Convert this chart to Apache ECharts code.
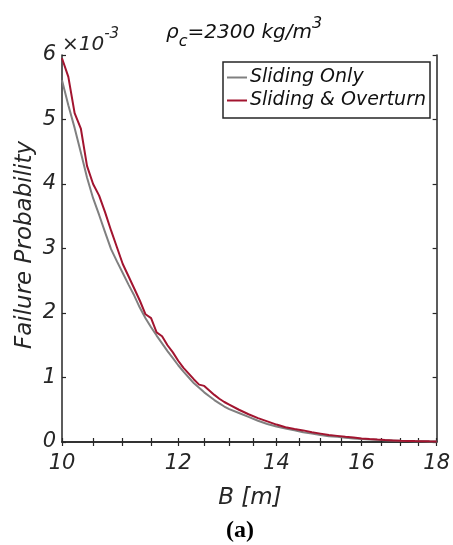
<!DOCTYPE html>
<html>
<head>
<meta charset="utf-8">
<script src="https://cdn.jsdelivr.net/npm/echarts@6/dist/echarts.min.js"></script>
<style>
  html, body { margin: 0; padding: 0; background: #fff; }
  #chart { width: 453px; height: 545px; }
</style>
</head>
<body>
<div id="chart"></div>
<script>
// Footing width B [m]
var widths = [
  10.0, 10.1, 10.2, 10.3, 10.4, 10.5, 10.6, 10.7, 10.8, 10.9,
  11.0, 11.1, 11.2, 11.3, 11.4, 11.5, 11.6, 11.7, 11.8, 11.9,
  12.0, 12.1, 12.2, 12.3, 12.4, 12.5, 12.6, 12.7, 12.8, 12.9,
  13.0, 13.2, 13.4, 13.6, 13.8, 14.0, 14.2, 14.4, 14.6, 14.8,
  15.0, 15.2, 15.4, 15.6, 15.8, 16.0, 16.2, 16.4, 16.6, 16.8,
  17.0, 17.2, 17.4, 17.6, 17.8, 18.0
];

// Failure probability (x 10^-3), sliding mode only
var slidingOnly = [
  5.61, 5.22, 4.87, 4.49, 4.10, 3.78, 3.52, 3.25, 2.99, 2.80,
  2.62, 2.44, 2.27, 2.08, 1.92, 1.78, 1.65, 1.53, 1.41, 1.30,
  1.19, 1.09, 1.00, 0.91, 0.84, 0.77, 0.71, 0.65, 0.60, 0.55,
  0.51, 0.45, 0.39, 0.33, 0.28, 0.24, 0.21, 0.18, 0.15, 0.13,
  0.11, 0.09, 0.08, 0.065, 0.055, 0.046, 0.039, 0.033, 0.028, 0.023,
  0.019, 0.016, 0.013, 0.011, 0.009, 0.008
];

// Failure probability (x 10^-3), sliding and overturning
var slidingOverturn = [
  5.95, 5.66, 5.10, 4.86, 4.28, 4.00, 3.82, 3.56, 3.28, 3.02,
  2.76, 2.57, 2.38, 2.19, 1.98, 1.92, 1.70, 1.64, 1.50, 1.39,
  1.26, 1.15, 1.06, 0.97, 0.89, 0.87, 0.80, 0.73, 0.67, 0.62,
  0.58, 0.50, 0.43, 0.37, 0.32, 0.27, 0.23, 0.20, 0.18, 0.15,
  0.13, 0.11, 0.095, 0.08, 0.068, 0.056, 0.045, 0.037, 0.030, 0.025,
  0.020, 0.017, 0.014, 0.012, 0.010, 0.009
];

var xLabelValues = [10, 12, 14, 16, 18];
var xTickValues = [10, 10.5, 11, 11.5, 12, 12.5, 13, 13.5, 14, 14.5, 15, 15.5, 16, 16.5, 17, 17.5, 18];
var seriesNames = ['Sliding Only', 'Sliding & Overturn'];

function pairs(xs, ys) {
  return xs.map(function (x, i) { return [x, ys[i]]; });
}

var FONT = '"DejaVu Sans", "Liberation Sans", Arial, sans-serif';
var AXIS_COLOR = '#262626';

var chart = echarts.init(document.getElementById('chart'), null, { renderer: 'canvas' });

var xAxisBase = {
  type: 'log',
  logBase: 10,
  min: 10,
  max: 18,
  axisLine: { show: true, lineStyle: { color: AXIS_COLOR, width: 1.5 } },
  axisTick: { show: true, inside: true, length: 4, customValues: xTickValues,
              lineStyle: { color: AXIS_COLOR, width: 1.2 } },
  splitLine: { show: false },
  minorTick: { show: false }
};

var yAxisBase = {
  type: 'value',
  min: 0,
  max: 6,
  interval: 1,
  axisLine: { show: true, lineStyle: { color: AXIS_COLOR, width: 1.5 } },
  axisTick: { show: true, inside: true, length: 4, lineStyle: { color: AXIS_COLOR, width: 1.2 } },
  splitLine: { show: false }
};

chart.setOption({
  backgroundColor: '#ffffff',
  animation: false,
  grid: { left: 62, right: 16, top: 55, bottom: 103, containLabel: false },
  legend: {
    data: seriesNames,
    orient: 'vertical',
    left: 223,
    top: 62,
    icon: 'rect',
    itemWidth: 20,
    itemHeight: 2,
    itemGap: 4,
    padding: [6, 4, 8, 4],
    borderColor: AXIS_COLOR,
    borderWidth: 1.5,
    backgroundColor: '#ffffff',
    textStyle: { fontFamily: FONT, fontStyle: 'italic', fontSize: 19, color: '#111', padding: [0, 0, 0, -2] }
  },
  xAxis: [
    Object.assign({}, xAxisBase, {
      position: 'bottom',
      axisLabel: {
        show: true, customValues: xLabelValues, margin: 11,
        fontFamily: FONT, fontStyle: 'italic', fontSize: 21, color: AXIS_COLOR,
        formatter: function (v) { return String(Math.round(v)); }
      }
    }),
    Object.assign({}, xAxisBase, { position: 'top', axisLabel: { show: false } })
  ],
  yAxis: [
    Object.assign({}, yAxisBase, {
      position: 'left',
      axisLabel: { show: true, margin: 6, fontFamily: FONT, fontStyle: 'italic', fontSize: 21, color: AXIS_COLOR }
    }),
    Object.assign({}, yAxisBase, { position: 'right', axisLabel: { show: false } })
  ],
  series: [
    {
      name: seriesNames[0],
      type: 'line',
      xAxisIndex: 0,
      yAxisIndex: 0,
      data: pairs(widths, slidingOnly),
      showSymbol: false,
      symbol: 'none',
      lineStyle: { color: '#808080', width: 2 },
      itemStyle: { color: '#808080' },
      z: 2
    },
    {
      name: seriesNames[1],
      type: 'line',
      xAxisIndex: 0,
      yAxisIndex: 0,
      data: pairs(widths, slidingOverturn),
      showSymbol: false,
      symbol: 'none',
      lineStyle: { color: '#A2142F', width: 2 },
      itemStyle: { color: '#A2142F' },
      z: 3
    }
  ],
  graphic: [
    {
      // title: rho_c = 2300 kg/m^3
      type: 'text',
      left: 166,
      top: 16,
      style: {
        text: '{b|ρ}{sub|c}{b|=2300 kg/m}{sup|3}',
        rich: {
          b: { fontFamily: FONT, fontStyle: 'italic', fontSize: 20, lineHeight: 34, verticalAlign: 'middle', fill: '#111' },
          sub: { fontFamily: FONT, fontStyle: 'italic', fontSize: 16, lineHeight: 16, verticalAlign: 'bottom', fill: '#111' },
          sup: { fontFamily: FONT, fontStyle: 'italic', fontSize: 16, lineHeight: 16, verticalAlign: 'top', fill: '#111' }
        }
      }
    },
    {
      // axis exponent
      type: 'text',
      left: 62,
      top: 27,
      style: {
        text: '{b|×10}{sup|-3}',
        rich: {
          b: { fontFamily: FONT, fontStyle: 'italic', fontSize: 20, lineHeight: 28, verticalAlign: 'bottom', fill: AXIS_COLOR },
          sup: { fontFamily: FONT, fontStyle: 'italic', fontSize: 15, lineHeight: 15, verticalAlign: 'top', fill: AXIS_COLOR }
        }
      }
    },
    {
      type: 'text',
      x: 25,
      y: 245,
      rotation: Math.PI / 2,
      style: {
        text: 'Failure Probability',
        fontFamily: FONT, fontStyle: 'italic', fontSize: 23, fill: AXIS_COLOR,
        textAlign: 'center', textVerticalAlign: 'middle'
      }
    },
    {
      type: 'text',
      x: 250,
      y: 498,
      style: {
        text: 'B [m]',
        fontFamily: FONT, fontStyle: 'italic', fontSize: 23, fill: AXIS_COLOR,
        textAlign: 'center', textVerticalAlign: 'middle'
      }
    },
    {
      type: 'text',
      x: 240,
      y: 531,
      style: {
        text: '(a)',
        fontFamily: '"Liberation Serif", "Times New Roman", serif', fontWeight: 'bold', fontSize: 24, fill: '#000',
        textAlign: 'center', textVerticalAlign: 'middle'
      }
    }
  ]
});
</script>
</body>
</html>
